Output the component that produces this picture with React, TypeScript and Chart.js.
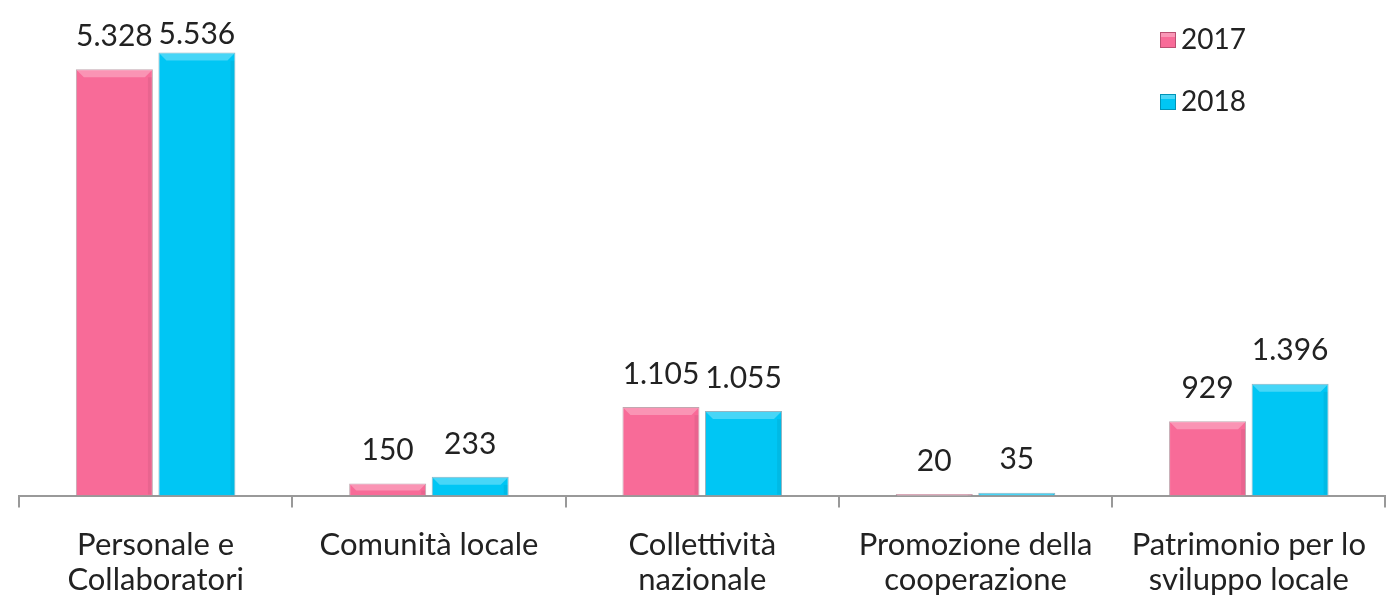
import React, { useEffect, useRef } from "react";
import { Chart, registerables } from "chart.js";

Chart.register(...registerables);

const categories: string[][] = [
  ["Personale e", "Collaboratori"],
  ["Comunità locale"],
  ["Collettività", "nazionale"],
  ["Promozione della", "cooperazione"],
  ["Patrimonio per lo", "sviluppo locale"],
];
const seriesNames = ["2017", "2018"];
const values2017 = [5328, 150, 1105, 20, 929];
const values2018 = [5536, 233, 1055, 35, 1396];
const colors = ["#F86B98", "#00C6F4"];

const FONT = "Lato, 'Open Sans', sans-serif";

const fmt = (v: number) => String(v).replace(/\B(?=(\d{3})+(?!\d))/g, ".");

const decorPlugin = {
  id: "decor",
  afterDatasetsDraw(chart: any) {
    const ctx = chart.ctx;
    ctx.save();
    chart.data.datasets.forEach((ds: any, di: number) => {
      const meta = chart.getDatasetMeta(di);
      meta.data.forEach((bar: any, i: number) => {
        const { x, y, base, width } = bar.getProps(["x", "y", "base", "width"], true);
        const h = base - y;
        const left = x - width / 2;
        const right = x + width / 2;
        const b = Math.min(7, h / 2);
        if (h > 1) {
          ctx.fillStyle = "rgba(255,255,255,0.28)";
          ctx.beginPath();
          ctx.moveTo(left + 1, y + 1);
          ctx.lineTo(right - 1, y + 1);
          ctx.lineTo(right - 1 - b, y + 1 + b);
          ctx.lineTo(left + 1 + b, y + 1 + b);
          ctx.closePath();
          ctx.fill();
          ctx.fillStyle = "rgba(0,0,0,0.06)";
          ctx.fillRect(right - 5, y + 1 + b, 4, h - 2 - b);
        }
        // value label
        ctx.fillStyle = "#222";
        ctx.font = `30px ${FONT}`;
        ctx.textAlign = "center";
        ctx.textBaseline = "middle";
        const ly = Math.max(34, y - 33);
        ctx.fillText(fmt(ds.data[i]), x, ly);
      });
    });
    // legend
    const items = [
      { y: 40, c: colors[0], t: seriesNames[0] },
      { y: 102, c: colors[1], t: seriesNames[1] },
    ];
    items.forEach((it) => {
      ctx.fillStyle = it.c;
      ctx.fillRect(1160, it.y - 8, 16, 16);
      ctx.strokeStyle = "rgba(0,0,0,0.25)";
      ctx.lineWidth = 1;
      ctx.strokeRect(1160.5, it.y - 7.5, 15, 15);
      ctx.fillStyle = "rgba(255,255,255,0.3)";
      ctx.fillRect(1161, it.y - 7, 14, 4);
      ctx.fillStyle = "#222";
      ctx.font = `28px ${FONT}`;
      ctx.textAlign = "left";
      ctx.textBaseline = "middle";
      ctx.fillText(it.t, 1181, it.y);
    });
    ctx.restore();
  },
};

export default function App() {
  const ref = useRef<HTMLCanvasElement | null>(null);
  useEffect(() => {
    if (!ref.current) return;
    const chart = new Chart(ref.current, {
      type: "bar",
      data: {
        labels: categories,
        datasets: [
          {
            label: seriesNames[0],
            data: values2017,
            backgroundColor: colors[0],
            borderColor: "rgba(120,60,80,0.45)",
            borderWidth: 1,
            categoryPercentage: 0.604,
            barPercentage: 0.933,
          },
          {
            label: seriesNames[1],
            data: values2018,
            backgroundColor: colors[1],
            borderColor: "rgba(20,90,120,0.45)",
            borderWidth: 1,
            categoryPercentage: 0.604,
            barPercentage: 0.933,
          },
        ],
      },
      options: {
        animation: false,
        responsive: true,
        maintainAspectRatio: false,
        layout: { padding: { left: 19, right: 0, top: 15.5, bottom: 0 } },
        plugins: {
          legend: { display: false },
          tooltip: { enabled: false },
        },
        scales: {
          x: {
            grid: {
              display: true,
              drawOnChartArea: false,
              offset: true,
              tickLength: 12,
              color: "#999",
              lineWidth: 2,
            },
            border: { display: true, color: "#999", width: 2 },
            ticks: {
              color: "#222",
              font: { family: FONT, size: 31, lineHeight: 1.13 },
              padding: 20,
              maxRotation: 0,
              autoSkip: false,
            },
            afterFit: (s: any) => {
              s.height = 99.5;
            },
          },
          y: {
            display: false,
            min: 0,
            max: 6000,
          },
        },
      },
      plugins: [decorPlugin],
    });
    return () => chart.destroy();
  }, []);
  return (
    <div style={{ position: "fixed", left: 0, top: 0, width: 1386, height: 595, overflow: "hidden", background: "#fff" }}>
      <canvas ref={ref} />
    </div>
  );
}
